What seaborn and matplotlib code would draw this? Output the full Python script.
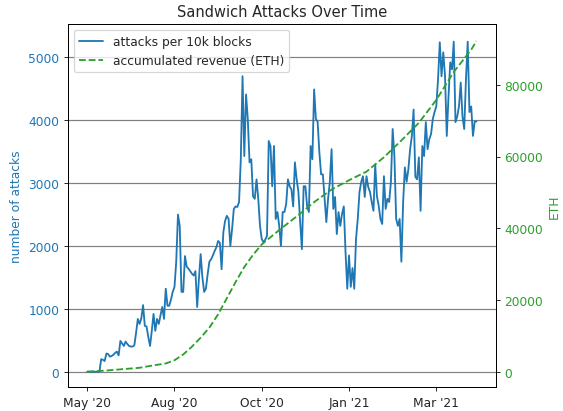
import numpy as np
import matplotlib
matplotlib.use("Agg")
import matplotlib.pyplot as plt
import seaborn as sns

sns.set_style("ticks")

# attacks per 10k-block bucket
attacks = [
    0, 0, 0, 0, 0, 0, 0, 0,
    200, 190, 170, 290, 280, 240, 250, 270, 300, 320, 260,
    490, 450, 410, 480, 440, 410, 400, 400, 420,
    620, 840, 760, 850, 1060, 730, 720, 550, 410, 650,
    920, 650, 840, 760, 900, 1030, 840, 1320, 1050, 1050,
    1150, 1270, 1350, 1750, 2500, 2320, 1270, 1270, 1840, 1670, 1640,
    1600, 1560, 1530, 1600, 1030, 1480, 1870, 1500, 1270, 1320,
    1550, 1750, 1790, 1850, 1920, 1980, 2080, 2050, 1630,
    2220, 2400, 2480, 2430, 2000, 2270, 2590, 2630, 2620, 2700,
    3380, 4700, 3430, 4410, 4020, 3330, 3380, 2790, 2750, 3060, 2750, 2320,
    2110, 2060, 2100, 2160, 3670, 3590, 2950, 3590, 2430, 2540, 2320, 2000,
    2540, 2540, 2670, 3060, 2950, 2900, 2630, 3330, 3060, 2860, 2380, 1950,
    2950, 2950, 2630, 2540, 3590, 3380, 4490, 4020, 3980, 3490, 3140, 3140,
    2750, 2380, 2750, 3020, 3540, 2590, 2780, 2190, 2540, 2320, 2510, 2630,
    1900, 1320, 1850, 1350, 1650, 1320, 2110, 2430, 2860, 3020, 3110, 2780,
    3110, 2940, 2860, 2700, 2560, 3300, 2790, 2640, 2430, 2350, 3110, 2590,
    2750, 2700, 3020, 3860, 3430, 2430, 2320, 2430, 1750, 2700, 3250, 3020,
    3220, 3540, 3750, 4170,
    3100, 3060, 3410, 2560, 3590, 3430, 3970, 3540, 3700, 3780, 4020, 4130,
    4220, 4650, 5240, 4700, 5080, 4700, 3750, 4380, 4920, 4810, 5250, 3970,
    4060, 4220, 4600, 4060, 3860, 4650, 5250, 4130, 4220, 3750, 3980, 3980,
]

# accumulated revenue (ETH), sampled every few buckets
rev_bucket = [0, 10, 20, 30, 37, 45, 50, 55, 60, 65, 70, 75, 80, 85, 90, 95, 100, 110,
              120, 130, 140, 150, 160, 170, 180, 190, 200, 210, 220, 223]
revenue = [0, 300, 700, 1100, 1700, 2300, 3200, 4800, 7000, 9500, 12300, 16000,
           20500, 25000, 29200, 32600, 35500, 39500,
           43300, 47300, 50800, 53400, 55800, 59800, 64500, 69400, 75800, 83600, 89800, 92200]

tick_buckets = [0, 50, 100, 150, 200]
tick_labels = ["May '20", "Aug '20", "Oct '20", "Jan '21", "Mar '21"]

fig, ax1 = plt.subplots(figsize=(6.4, 4.68), dpi=88)
fig.subplots_adjust(left=0.1203, right=0.8805, bottom=0.0575, top=0.940)

buckets = np.arange(len(attacks))
sns.lineplot(x=buckets, y=attacks, ax=ax1, color="tab:blue",
             label="attacks per 10k blocks", legend=False)
ax1.set_ylim(-248, 5533)
ax1.set_xticks(tick_buckets, tick_labels)
ax1.set_ylabel("number of attacks", color="tab:blue")
ax1.tick_params(axis="y", labelcolor="tab:blue")
ax1.yaxis.grid(True, color="gray", linewidth=1)

ax2 = ax1.twinx()
sns.lineplot(x=rev_bucket, y=revenue, ax=ax2, color="tab:green", linestyle="--",
             label="accumulated revenue (ETH)", legend=False)
ax2.set_ylim(-4350, 97000)
ax2.set_ylabel("ETH", color="tab:green")
ax2.tick_params(axis="y", labelcolor="tab:green")

for ax in (ax1, ax2):
    for s in ax.spines.values():
        s.set_color("black")
        s.set_visible(True)

h1, l1 = ax1.get_legend_handles_labels()
h2, l2 = ax2.get_legend_handles_labels()
ax2.legend(h1 + h2, l1 + l2, loc="upper left")

ax1.set_title("Sandwich Attacks Over Time")
fig.savefig("out.png", dpi=88)
